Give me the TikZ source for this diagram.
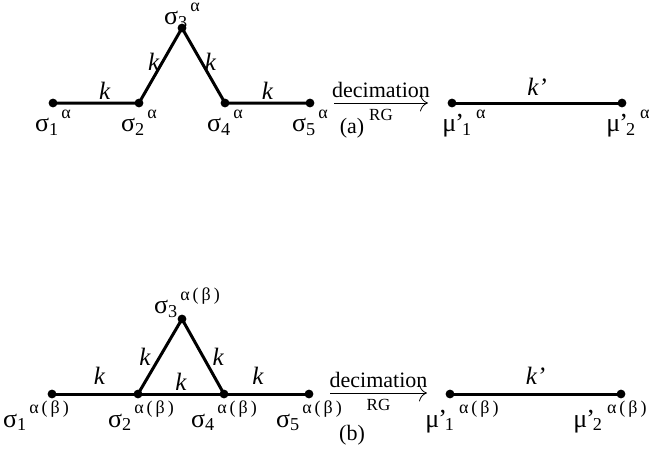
\documentclass[tikz,border=0pt]{standalone}
\usepackage{fontspec}
\setmainfont{Liberation Serif}
\usetikzlibrary{arrows.meta}

\tikzset{
  site/.style={circle, fill, inner sep=0pt, minimum size=4.4pt},
  bond/.style={line width=1.5pt},
  flow/.style={thin, -{To[length=4pt]}},
  lbl/.style={font=\fontsize{13}{14}\selectfont, inner sep=1pt},
  txt/.style={font=\fontsize{11}{12}\selectfont, inner sep=1pt},
  cpl/.style={font=\fontsize{12.5}{13}\selectfont\itshape, inner sep=1pt},
  tiny/.style={font=\fontsize{8.5}{9}\selectfont, inner sep=1pt},
}
\newcommand{\spin}[3]{#1\textsubscript{#2}\kern1pt\raisebox{1.1ex}{\fontsize{9}{9}\selectfont #3}}
\newcommand{\mspin}[3]{#1\kern-.5pt’\kern-1pt\textsubscript{#2}\kern2pt\raisebox{1.1ex}{\fontsize{9}{9}\selectfont #3}}
\newcommand{\ab}{α\,(\,β\,)}

\begin{document}
\begin{tikzpicture}[x=0.5pt, y=-0.5pt]
	\useasboundingbox (0,0) rectangle (664,462);

	% (a) open chain
	\node[site, label={[lbl]below:\spin{σ}{1}{α}}] (a1) at (53,103) {};
	\node[site, label={[lbl]below:\spin{σ}{2}{α}}] (a2) at (139,103) {};
	\node[site, label={[lbl, label distance=-4pt]above:\spin{σ}{3}{α}}] (a3) at (182,28) {};
	\node[site, label={[lbl]below:\spin{σ}{4}{α}}] (a4) at (225,103) {};
	\node[site, label={[lbl]below:\spin{σ}{5}{α}}] (a5) at (310,103) {};
	\draw[bond] (a1.center) -- node[cpl, above, pos=0.6] {k} (a2.center)
		-- node[cpl, left, pos=0.55] {k} (a3.center)
		-- node[cpl, right, pos=0.45] {k} (a4.center)
		-- node[cpl, above] {k} (a5.center);

	\coordinate (afrom) at (334,103);
	\coordinate (ato) at (428,103);
	\draw[flow] (afrom) -- node[txt, above=1.5pt] {decimation} node[tiny, below=2pt] {RG} (ato);

	\node[site, label={[lbl, xshift=6pt]below:\mspin{μ}{1}{α}}] (am1) at (452,103) {};
	\node[site, label={[lbl, xshift=3pt]below:\mspin{μ}{2}{α}}] (am2) at (622,103) {};
	\draw[bond] (am1.center) -- node[cpl, above=2pt] {k’} (am2.center);

	\node[txt] (capa) at (352,128) {(a)};

	% (b) chain with closed triangle
	\node[site, label={[lbl, xshift=-8pt]below:\spin{σ}{1}{\ab}}] (b1) at (52,394) {};
	\node[site, label={[lbl, xshift=1.5pt]below:\spin{σ}{2}{\ab}}] (b2) at (138,394) {};
	\node[site, label={[lbl, xshift=2.5pt, label distance=-3pt]above:\spin{σ}{3}{\ab}}] (b3) at (182,319) {};
	\node[site, label={[lbl]below:\spin{σ}{4}{\ab}}] (b4) at (224,394) {};
	\node[site, label={[lbl]below:\spin{σ}{5}{\ab}}] (b5) at (309,394) {};
	\draw[bond] (b1.center) -- node[cpl, above=3pt, pos=0.55] {k} (b2.center)
		-- node[cpl, above] {k} (b4.center)
		-- node[cpl, above=3pt, pos=0.4] {k} (b5.center);
	\draw[bond] (b2.center) -- node[cpl, left=3pt] {k} (b3.center)
		-- node[cpl, right=3pt] {k} (b4.center);

	\coordinate (bfrom) at (330,393);
	\coordinate (bto) at (427,393);
	\draw[flow] (bfrom) -- node[txt, above=1.5pt] {decimation} node[tiny, below=2pt] {RG} (bto);

	\node[site, label={[lbl, xshift=6pt]below:\mspin{μ}{1}{\ab}}] (bm1) at (450,394) {};
	\node[site, label={[lbl, xshift=-5.5pt]below:\mspin{μ}{2}{\ab}}] (bm2) at (621,394) {};
	\draw[bond] (bm1.center) -- node[cpl, above=3pt] {k’} (bm2.center);

	\node[txt] (capb) at (352,435) {(b)};
\end{tikzpicture}
\end{document}
